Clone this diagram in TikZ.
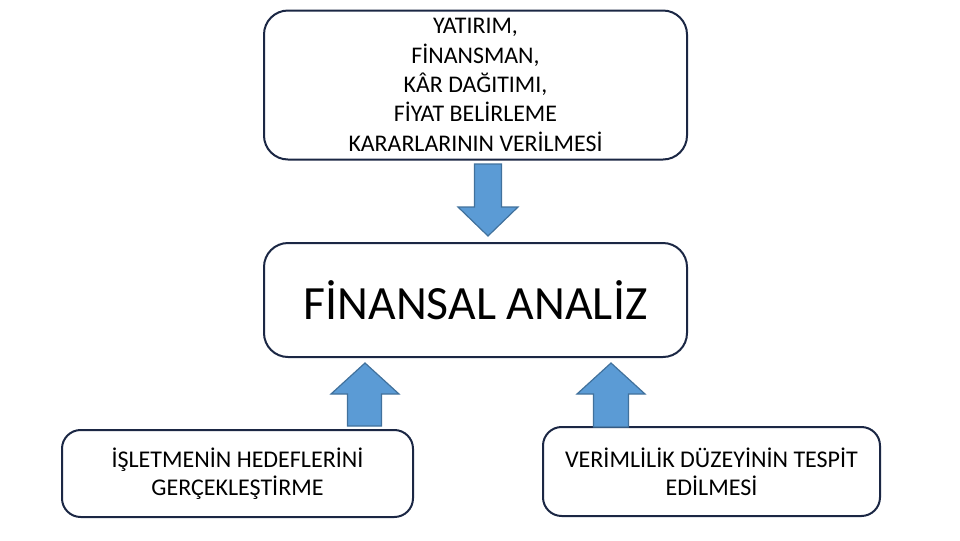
\documentclass[tikz,border=0pt]{standalone}
\usepackage{fontspec}
\setmainfont{Carlito}
\definecolor{boxline}{HTML}{1B2744}
\definecolor{arrfill}{HTML}{5B9BD5}
\definecolor{arrline}{HTML}{41719C}
\tikzset{
  roundbox/.style={draw=boxline, line width=1.5pt, rounded corners=18pt, fill=white, align=center, inner sep=0pt},
  bigarrow/.style={fill=arrfill, draw=arrline, line width=0.9pt, line join=miter},
}
\begin{document}
\begin{tikzpicture}[x=0.75pt,y=-0.75pt]
\useasboundingbox (0,0) rectangle (960,540);
\node[roundbox, minimum width=317.25pt, minimum height=111.75pt,
      font=\fontsize{17.9}{22}\selectfont] (top) at (475.5,85)
  {YATIRIM,\\FİNANSMAN,\\KÂR DAĞITIMI,\\FİYAT BELİRLEME\\KARARLARININ VERİLMESİ};
\node[roundbox, minimum width=317.25pt, minimum height=85.5pt,
      font=\fontsize{35.8}{42}\selectfont] (mid) at (475.5,300) {FİNANSAL ANALİZ};
\node[roundbox, rounded corners=14pt, minimum width=263.25pt, minimum height=65.25pt,
      font=\fontsize{18}{21}\selectfont] (left) at (237.5,473.5)
  {İŞLETMENİN HEDEFLERİNİ\\GERÇEKLEŞTİRME};
\node[roundbox, rounded corners=14pt, minimum width=252.75pt, minimum height=66.75pt,
      font=\fontsize{18}{21}\selectfont] (right) at (711.5,471.5)
  {VERİMLİLİK DÜZEYİNİN TESPİT\\EDİLMESİ};
% down arrow: top -> mid
\draw[bigarrow] (474.5,164) -- (501.5,164) -- (501.5,207) -- (518,207) -- (488,236)
  -- (458,207) -- (474.5,207) -- cycle;
% up arrow: left -> mid
\draw[bigarrow] (347.5,426) -- (381.5,426) -- (381.5,394) -- (399,394) -- (365,363)
  -- (331,394) -- (347.5,394) -- cycle;
% up arrow: right -> mid
\draw[bigarrow] (593.5,427) -- (628.5,427) -- (628.5,394) -- (645,394) -- (611,363)
  -- (577,394) -- (593.5,394) -- cycle;
\end{tikzpicture}
\end{document}
